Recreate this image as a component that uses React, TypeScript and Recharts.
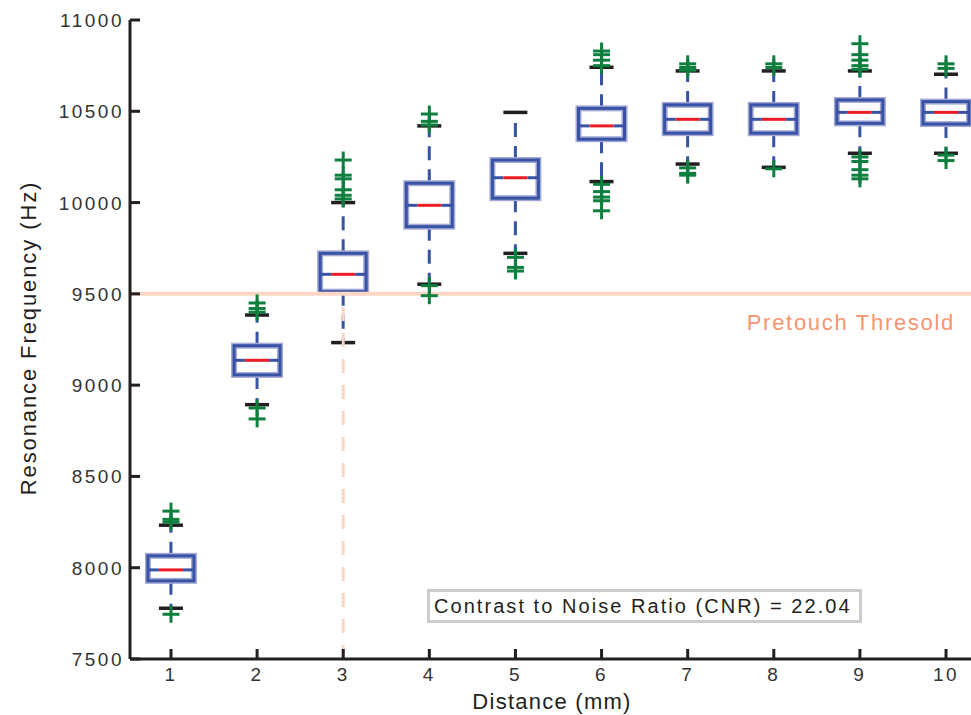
import React from "react";
import { ComposedChart, Bar, Scatter, XAxis, YAxis, ReferenceLine } from "recharts";

// distance (mm) categories
const distances = [1, 2, 3, 4, 5, 6, 7, 8, 9, 10];

// box plot statistics (Hz)
const whiskerLow = [7778, 8893, 9233, 9553, 9722, 10115, 10211, 10193, 10270, 10270];
const q1 = [7928, 9056, 9512, 9868, 10024, 10347, 10380, 10380, 10434, 10430];
const medians = [7988, 9136, 9607, 9985, 10136, 10420, 10456, 10456, 10494, 10494];
const q3 = [8065, 9216, 9722, 10106, 10233, 10516, 10535, 10535, 10562, 10553];
const whiskerHigh = [8233, 9384, 10000, 10420, 10494, 10741, 10721, 10721, 10721, 10703];

// outliers per distance
const outliers = [
  [8310, 8265, 8250, 7745],
  [9450, 9420, 9400, 8875, 8815],
  [10233, 10150, 10130, 10070, 10040, 10020],
  [10485, 10445, 10425, 9545, 9490],
  [9700, 9645, 9625],
  [10830, 10810, 10780, 10750, 10100, 10060, 10030, 10010, 9955],
  [10760, 10740, 10725, 10190, 10160, 10150],
  [10760, 10740, 10185],
  [10870, 10810, 10780, 10750, 10730, 10250, 10225, 10180, 10150, 10130],
  [10760, 10735, 10260, 10230],
];

const yTicks = [7500, 8000, 8500, 9000, 9500, 10000, 10500, 11000];
const threshold = 9500;
const thresholdDistance = 3;
const cnrText = "Contrast to Noise Ratio (CNR) = 22.04";

const boxRows = distances.map((d, i) => ({
  distance: d,
  range: [whiskerLow[i], whiskerHigh[i]],
  lo: whiskerLow[i],
  q1: q1[i],
  med: medians[i],
  q3: q3[i],
  hi: whiskerHigh[i],
}));

const outlierPoints = distances.flatMap((d, i) =>
  outliers[i].map((v) => ({ distance: d, value: v }))
);

const BLUE = "#3953a4";
const HALO = "#a3a8d6";
const RED = "#ee1c25";
const GREEN = "#0e7f3e";
const INK = "#231f20";
const SALMON = "#fcd6c4";
const FONT = "'Liberation Sans', Arial, sans-serif";

function BoxShape(props: any) {
  const { x, y, width, height, payload } = props;
  const top = Math.min(y, y + height);
  const h = Math.abs(height);
  const { lo, hi } = payload;
  // position inside the bar's pixel span
  const py = (v: number) => top + (h * (hi - v)) / (hi - lo);
  const cx = x + width / 2;
  const yQ1 = py(payload.q1);
  const yQ3 = py(payload.q3);
  const yMed = py(payload.med);
  const left = x;
  const right = x + width;
  const indent = 11;
  const cap = 12;
  return (
    <g>
      <line x1={cx} x2={cx} y1={yQ3} y2={top} stroke={BLUE} strokeWidth={3} strokeDasharray="14 9" />
      <line x1={cx} x2={cx} y1={yQ1} y2={top + h} stroke={BLUE} strokeWidth={3} strokeDasharray="14 9" />
      <line x1={cx - cap} x2={cx + cap} y1={top} y2={top} stroke={INK} strokeWidth={3.5} />
      <line x1={cx - cap} x2={cx + cap} y1={top + h} y2={top + h} stroke={INK} strokeWidth={3.5} />
      <rect x={left} y={yQ3} width={width} height={yQ1 - yQ3} fill="#fff" stroke={HALO} strokeWidth={6} />
      <rect x={left} y={yQ3} width={width} height={yQ1 - yQ3} fill="none" stroke={BLUE} strokeWidth={3} />
      <line x1={left} x2={left + indent} y1={yMed} y2={yMed} stroke={BLUE} strokeWidth={3} />
      <line x1={right - indent} x2={right} y1={yMed} y2={yMed} stroke={BLUE} strokeWidth={3} />
      <line x1={left + indent} x2={right - indent} y1={yMed} y2={yMed} stroke={RED} strokeWidth={3} />
    </g>
  );
}

function PlusShape(props: any) {
  const { cx, cy } = props;
  return (
    <g>
      <line x1={cx - 8.5} x2={cx + 8.5} y1={cy} y2={cy} stroke={GREEN} strokeWidth={3} />
      <line x1={cx} x2={cx} y1={cy - 8.5} y2={cy + 8.5} stroke={GREEN} strokeWidth={3} />
    </g>
  );
}

function YTick(props: any) {
  const { x, y, payload } = props;
  return (
    <g>
      <line x1={x + 6} x2={x + 16} y1={y} y2={y} stroke={INK} strokeWidth={3} />
      <text x={x} y={y} dy={7} textAnchor="end" fontSize={19} letterSpacing={2.5} fill="#333" fontFamily={FONT}>
        {payload.value}
      </text>
    </g>
  );
}

function BottomTick(props: any) {
  const { x, y, payload } = props;
  return (
    <g>
      <line x1={x} x2={x} y1={y} y2={y - 10} stroke={INK} strokeWidth={3} />
      <text x={x} y={y + 22} textAnchor="middle" fontSize={19} letterSpacing={2.5} fill="#333" fontFamily={FONT}>
        {payload.value}
      </text>
    </g>
  );
}

function TopTick(props: any) {
  const { x, y } = props;
  return <line x1={x} x2={x} y1={y} y2={y + 10} stroke={INK} strokeWidth={3} />;
}

export default function App() {
  return (
    <div style={{ position: "absolute", left: 0, top: 0, width: 971, height: 715, background: "#fff", fontFamily: FONT }}>
      <ComposedChart
        width={971}
        height={715}
        data={boxRows}
        margin={{ top: 20, right: 0, bottom: 0, left: 0 }}
      >
        <XAxis
          xAxisId="top"
          orientation="top"
          type="number"
          dataKey="distance"
          domain={[0.524, 10.29]}
          ticks={distances}
          allowDataOverflow
          height={0}
          tickSize={0}
          tickMargin={0}
          tickLine={false}
          axisLine={{ stroke: INK, strokeWidth: 3 }}
          tick={<TopTick />}
        />
        <XAxis
          type="number"
          dataKey="distance"
          domain={[0.524, 10.29]}
          ticks={distances}
          allowDataOverflow
          height={56}
          tickSize={0}
          tickMargin={0}
          tickLine={false}
          axisLine={{ stroke: INK, strokeWidth: 3 }}
          tick={<BottomTick />}
          label={(p: any) => (
            <text
              x={552}
              y={709}
              textAnchor="middle"
              fontSize={22}
              letterSpacing={1.25}
              fill={INK}
              fontFamily={FONT}
            >
              Distance (mm)
            </text>
          )}
        />
        <YAxis
          type="number"
          domain={[7500, 11000]}
          ticks={yTicks}
          width={130}
          tickSize={0}
          tickMargin={6}
          tickLine={false}
          axisLine={{ stroke: INK, strokeWidth: 3 }}
          tick={<YTick />}
          label={(p: any) => (
            <text
              x={36}
              y={338}
              transform="rotate(-90 36 338)"
              textAnchor="middle"
              fontSize={22}
              letterSpacing={1.9}
              fill={INK}
              fontFamily={FONT}
            >
              Resonance Frequency (Hz)
            </text>
          )}
        />
        <ReferenceLine
          segment={[
            { x: thresholdDistance, y: 7500 },
            { x: thresholdDistance, y: threshold },
          ]}
          stroke={SALMON}
          strokeWidth={3}
          strokeDasharray="14 12"
        />
        <ReferenceLine
          y={threshold}
          stroke={SALMON}
          strokeWidth={4}
          label={(p: any) => {
            const vb = p.viewBox || {};
            return (
              <text
                x={(vb.x ?? 130) + (vb.width ?? 841) - 16}
                y={(vb.y ?? 294) + 36}
                textAnchor="end"
                fontSize={22}
                letterSpacing={1.7}
                fill="#f6956f"
                fontFamily={FONT}
              >
                Pretouch Thresold
              </text>
            );
          }}
        />
        <Bar dataKey="range" barSize={46} shape={<BoxShape />} isAnimationActive={false} />
        <Scatter data={outlierPoints} dataKey="value" shape={<PlusShape />} isAnimationActive={false} />
      </ComposedChart>
      <div
        style={{
          position: "absolute",
          left: 427,
          top: 589,
          width: 425,
          height: 28,
          border: "3px solid #cccccc",
          background: "#fff",
          fontSize: 20,
          letterSpacing: 2.05,
          lineHeight: "28px",
          color: INK,
          paddingLeft: 4,
          whiteSpace: "nowrap",
        }}
      >
        {cnrText}
      </div>
    </div>
  );
}
